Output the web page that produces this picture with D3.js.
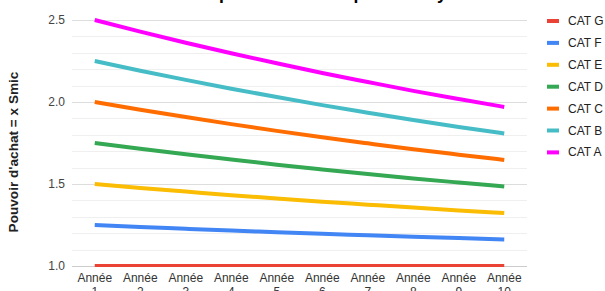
<!DOCTYPE html>
<html>
<head>
<meta charset="utf-8">
<script src="https://cdn.jsdelivr.net/npm/d3@7"></script>
<style>
  body { margin: 0; background: #fff; font-family: Arial, "Liberation Sans", sans-serif; }
</style>
</head>
<body>
<script>
// Categories on the x axis
var years = ["Année 1", "Année 2", "Année 3", "Année 4", "Année 5",
             "Année 6", "Année 7", "Année 8", "Année 9", "Année 10"];

// Series values
var catA = [2.500, 2.429, 2.361, 2.297, 2.236, 2.177, 2.122, 2.068, 2.018, 1.970];
var catB = [2.250, 2.191, 2.135, 2.081, 2.030, 1.981, 1.935, 1.890, 1.848, 1.808];
var catC = [2.000, 1.953, 1.908, 1.865, 1.824, 1.785, 1.748, 1.712, 1.679, 1.647];
var catD = [1.750, 1.715, 1.681, 1.649, 1.618, 1.589, 1.561, 1.534, 1.509, 1.485];
var catE = [1.500, 1.476, 1.454, 1.432, 1.412, 1.392, 1.374, 1.356, 1.339, 1.323];
var catF = [1.250, 1.238, 1.227, 1.216, 1.206, 1.196, 1.187, 1.178, 1.170, 1.162];
var catG = [1.000, 1.000, 1.000, 1.000, 1.000, 1.000, 1.000, 1.000, 1.000, 1.000];

// Legend order, top to bottom
var seriesNames = ["CAT G", "CAT F", "CAT E", "CAT D", "CAT C", "CAT B", "CAT A"];
var seriesValues = [catG, catF, catE, catD, catC, catB, catA];
var seriesColors = ["#ea4335", "#4285f4", "#fbbc04", "#34a853", "#ff6d01", "#46bdc6", "#ff00ff"];

// Y ticks
var majorTicks = [1.0, 1.5, 2.0, 2.5];
var minorTicks = [1.1, 1.2, 1.3, 1.4, 1.6, 1.7, 1.8, 1.9, 2.1, 2.2, 2.3, 2.4];

var width = 605;
var height = 291;
var margin = { left: 72, right: 78, top: 20, bottom: 25 };

var svg = d3.select("body")
    .append("svg")
    .attr("width", width)
    .attr("height", height)
    .style("display", "block");

var x = d3.scaleBand()
    .domain(years)
    .range([margin.left, width - margin.right]);

var y = d3.scaleLinear()
    .domain([1.0, 2.5])
    .range([height - margin.bottom, margin.top]);

// Title (almost entirely above the visible window)
var title = svg.append("text")
    .attr("x", 0)
    .attr("y", -1)
    .attr("font-size", 17.5)
    .attr("font-weight", "bold")
    .attr("fill", "#000")
    .text("Évolution du pouvoir d'achat par an moyen");

// line up the "p" of "pouvoir" with the reference
var pIndex = title.text().indexOf("pouvoir");
var pPos = title.node().getStartPositionOfChar(pIndex).x;
title.attr("x", 219 - pPos);

// Minor gridlines
svg.append("g")
    .selectAll("line")
    .data(minorTicks)
    .enter()
    .append("line")
    .attr("x1", margin.left)
    .attr("x2", width - margin.right)
    .attr("y1", function (d) { return Math.round(y(d)) + 0.5; })
    .attr("y2", function (d) { return Math.round(y(d)) + 0.5; })
    .attr("stroke", "#efefef");

// Major gridlines
svg.append("g")
    .selectAll("line")
    .data(majorTicks)
    .enter()
    .append("line")
    .attr("x1", margin.left)
    .attr("x2", width - margin.right)
    .attr("y1", function (d) { return Math.round(y(d)) + 0.5; })
    .attr("y2", function (d) { return Math.round(y(d)) + 0.5; })
    .attr("stroke", function (d) { return d === 1.0 ? "#cccccc" : "#dddddd"; });

// Y axis labels
var yAxis = d3.axisLeft(y)
    .tickValues(majorTicks)
    .tickFormat(d3.format(".1f"))
    .tickSize(0)
    .tickPadding(7);

svg.append("g")
    .attr("transform", "translate(" + margin.left + ",0)")
    .call(yAxis)
    .call(function (g) { g.select(".domain").remove(); })
    .selectAll("text")
    .attr("font-family", "Arial, 'Liberation Sans', sans-serif")
    .attr("font-size", 12)
    .attr("fill", "#444");

// X axis labels (two lines)
var xLabels = svg.append("g")
    .selectAll("text")
    .data(years)
    .enter()
    .append("text")
    .attr("x", function (d) { return x(d) + x.bandwidth() / 2; })
    .attr("y", height - margin.bottom + 16)
    .attr("text-anchor", "middle")
    .attr("font-size", 12)
    .attr("fill", "#333");

xLabels.append("tspan")
    .attr("x", function (d) { return x(d) + x.bandwidth() / 2; })
    .text(function (d) { return d.split(" ")[0]; });

xLabels.append("tspan")
    .attr("x", function (d) { return x(d) + x.bandwidth() / 2; })
    .attr("dy", 14)
    .text(function (d) { return d.split(" ")[1]; });

// Y axis title
svg.append("text")
    .attr("transform", "translate(18,152) rotate(-90)")
    .attr("text-anchor", "middle")
    .attr("font-size", 13.6)
    .attr("font-weight", "bold")
    .attr("fill", "#222")
    .text("Pouvoir d'achat = x Smic");

// Clip lines at the bottom of the plot area
svg.append("clipPath")
    .attr("id", "plot-clip")
    .append("rect")
    .attr("x", 0)
    .attr("y", 0)
    .attr("width", width)
    .attr("height", y(1.0) + 1);

var line = d3.line()
    .x(function (d, i) { return x(years[i]) + x.bandwidth() / 2; })
    .y(function (d) { return y(d); })
    .curve(d3.curveMonotoneX);

svg.append("g")
    .attr("clip-path", "url(#plot-clip)")
    .selectAll("path")
    .data(seriesValues)
    .enter()
    .append("path")
    .attr("d", function (d) { return line(d); })
    .attr("fill", "none")
    .attr("stroke", function (d, i) { return seriesColors[i]; })
    .attr("stroke-width", 4)
    .attr("stroke-linejoin", "round");

// Legend
var legend = svg.append("g")
    .selectAll("g")
    .data(seriesNames)
    .enter()
    .append("g")
    .attr("transform", function (d, i) { return "translate(547," + (21 + i * 21.9) + ")"; });

legend.append("rect")
    .attr("x", 0)
    .attr("y", -2)
    .attr("width", 12)
    .attr("height", 4)
    .attr("fill", function (d, i) { return seriesColors[i]; });

legend.append("text")
    .attr("x", 21)
    .attr("y", 4)
    .attr("font-size", 12)
    .attr("fill", "#222")
    .text(function (d) { return d; });
</script>
</body>
</html>
